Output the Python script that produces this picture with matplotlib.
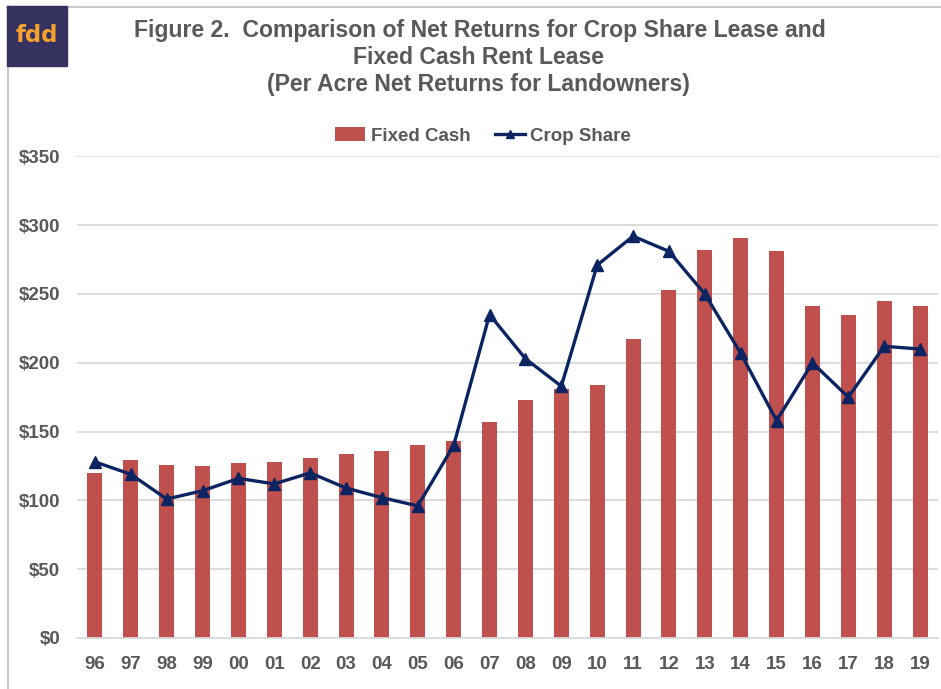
import matplotlib
matplotlib.use("Agg")
import matplotlib.pyplot as plt
import numpy as np
from matplotlib.patches import Rectangle
from matplotlib.lines import Line2D

years = ["96", "97", "98", "99", "00", "01", "02", "03", "04", "05", "06", "07",
         "08", "09", "10", "11", "12", "13", "14", "15", "16", "17", "18", "19"]
fixed_cash = [120, 129, 126, 125, 127, 128, 131, 134, 136, 140, 143, 157,
              173, 181, 184, 217, 253, 282, 291, 281, 241, 235, 245, 241]
crop_share = [128, 119, 101, 107, 116, 112, 120, 109, 102, 96, 140, 235,
              203, 183, 271, 292, 281, 250, 207, 158, 200, 175, 212, 210]
y_ticks = [0, 50, 100, 150, 200, 250, 300, 350]

W, H = 941, 689
plt.rcParams['font.family'] = ['Liberation Sans', 'DejaVu Sans']
fig = plt.figure(figsize=(W / 100, H / 100), dpi=100)
fig.patch.set_facecolor('white')

# border lines
fig.add_artist(Line2D([7 / W, 1], [1 - 6.5 / H, 1 - 6.5 / H], color='#c8c8c8', lw=1.5))
fig.add_artist(Line2D([7.5 / W, 7.5 / W], [0, 1 - 6 / H], color='#c8c8c8', lw=1.5))
# logo
fig.add_artist(Rectangle((7 / W, 1 - 66 / H), 60 / W, 60 / H, color='#35325f',
                         transform=fig.transFigure, zorder=3))
fig.text(37 / W, 1 - 36 / H, "fdd", color='#f7a12f', fontsize=16.5, fontweight='bold',
         ha='center', va='center', family=['DejaVu Sans'], zorder=4)

text_col = '#595959'
fig.text(480 / W, 1 - 31 / H, "Figure 2.  Comparison of Net Returns for Crop Share Lease and",
         ha='center', va='center', fontsize=16.6, fontweight='bold', color=text_col)
fig.text(478 / W, 1 - 58 / H, "Fixed Cash Rent Lease",
         ha='center', va='center', fontsize=16.6, fontweight='bold', color=text_col)
fig.text(478 / W, 1 - 85 / H, "(Per Acre Net Returns for Landowners)",
         ha='center', va='center', fontsize=16.6, fontweight='bold', color=text_col)

left, right, top, bottom = 77, 938, 156.4, 638
ax = fig.add_axes([left / W, 1 - bottom / H, (right - left) / W, (bottom - top) / H])
x = np.arange(len(years))
bars = ax.bar(x, fixed_cash, width=0.42, color='#c0504d', zorder=2, label='Fixed Cash')
line, = ax.plot(x, crop_share, color='#0c2461', lw=2.4, marker='^', markersize=8,
                zorder=3, label='Crop Share')
ax.set_xlim(-0.5, len(years) - 0.5)
ax.set_ylim(0, 350)
ax.set_yticks(y_ticks)
ax.set_yticklabels([f"${v}" for v in y_ticks])
ax.set_xticks(x)
ax.set_xticklabels(years)
ax.grid(axis='y', color='#d9d9d9', lw=1.3, zorder=0)
ax.set_axisbelow(True)
for s in ['top', 'right', 'left']:
    ax.spines[s].set_visible(False)
ax.spines['bottom'].set_color('#d9d9d9')
ax.spines['bottom'].set_linewidth(1.3)
ax.tick_params(axis='both', length=0, labelsize=13.5, labelcolor=text_col)
ax.tick_params(axis='y', pad=12)
ax.tick_params(axis='x', pad=13)
for lab in ax.get_xticklabels() + ax.get_yticklabels():
    lab.set_fontweight('bold')

leg_line = Line2D([], [], color='#0c2461', lw=2.4, marker='^', markersize=6)
leg = fig.legend([bars, leg_line], ['Fixed Cash', 'Crop Share'], loc='center',
                 bbox_to_anchor=(483 / W, 1 - 136 / H), ncol=2, frameon=False,
                 prop={'size': 13.5, 'weight': 'bold'}, handlelength=1.6, handletextpad=0.3,
                 columnspacing=1.3)
for t in leg.get_texts():
    t.set_color(text_col)

fig.savefig("out.png", dpi=100)
